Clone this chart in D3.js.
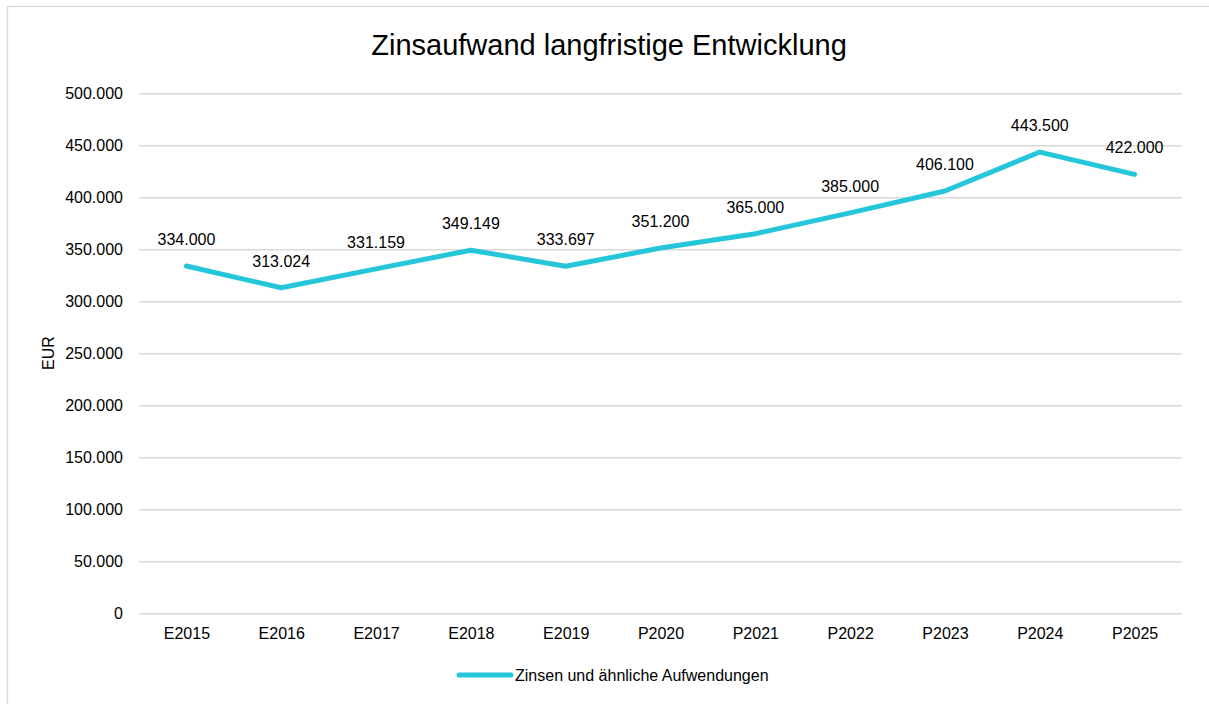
<!DOCTYPE html>
<html>
<head>
<meta charset="utf-8">
<script src="https://cdn.jsdelivr.net/npm/d3@7"></script>
<style>
  body { margin: 0; background: #fff; }
  svg { display: block; font-family: "Liberation Sans", Arial, sans-serif; }
</style>
</head>
<body>
<div id="chart"></div>
<script>
// chart values
const categories = ["E2015", "E2016", "E2017", "E2018", "E2019", "P2020",
  "P2021", "P2022", "P2023", "P2024", "P2025"];
const values = [334000, 313024, 331159, 349149, 333697, 351200,
  365000, 385000, 406100, 443500, 422000];
const yTicks = [0, 50000, 100000, 150000, 200000, 250000, 300000, 350000,
  400000, 450000, 500000];
const seriesName = "Zinsen und ähnliche Aufwendungen";
const title = "Zinsaufwand langfristige Entwicklung";

const lineColor = "#26c6da";
const gridColor = "#d9d9d9";

// german number format: 334.000
const de = d3.formatLocale({ decimal: ",", thousands: ".", grouping: [3], currency: ["", " €"] });
const fmt = de.format(",.0f");

const width = 1209, height = 704;
const margin = { top: 93.3, right: 27, bottom: 90.7, left: 139 };

const svg = d3.select("#chart").append("svg")
  .attr("width", width)
  .attr("height", height);

// chart border
svg.append("rect")
  .attr("x", 7.5).attr("y", 6.5)
  .attr("width", width).attr("height", height)
  .attr("fill", "#fff")
  .attr("stroke", gridColor)
  .attr("stroke-width", 1.3);

svg.append("text")
  .attr("x", 609).attr("y", 55)
  .attr("text-anchor", "middle")
  .attr("font-size", 29)
  .attr("fill", "#000")
  .text(title);

const x = d3.scalePoint()
  .domain(categories)
  .range([margin.left, width - margin.right])
  .padding(0.5);

const y = d3.scaleLinear()
  .domain([0, 500000])
  .range([height - margin.bottom, margin.top]);

// y axis with gridlines
svg.append("g")
  .attr("transform", `translate(${margin.left},0)`)
  .call(d3.axisLeft(y).tickValues(yTicks).tickFormat(fmt)
    .tickSize(-(width - margin.left - margin.right)).tickPadding(16))
  .call((g) => g.select(".domain").remove())
  .call((g) => g.selectAll(".tick line").attr("stroke", gridColor).attr("stroke-width", 1.5))
  .call((g) => g.selectAll(".tick text")
    .attr("font-size", 16).attr("fill", "#000")
    .attr("font-family", "Liberation Sans, Arial, sans-serif"));

// x axis labels
svg.append("g")
  .attr("transform", `translate(0,${height - margin.bottom})`)
  .call(d3.axisBottom(x).tickSize(0).tickPadding(14))
  .call((g) => g.select(".domain").remove())
  .call((g) => g.selectAll(".tick text")
    .attr("font-size", 16).attr("fill", "#000")
    .attr("font-family", "Liberation Sans, Arial, sans-serif"));

svg.append("text")
  .attr("transform", "translate(54,353) rotate(-90)")
  .attr("text-anchor", "middle")
  .attr("font-size", 16)
  .attr("fill", "#000")
  .text("EUR");

const line = d3.line()
  .x((d, i) => x(categories[i]))
  .y((d) => y(d));

svg.append("path")
  .datum(values)
  .attr("fill", "none")
  .attr("stroke", lineColor)
  .attr("stroke-width", 5)
  .attr("stroke-linecap", "round")
  .attr("stroke-linejoin", "round")
  .attr("d", line);

// data labels above each point
svg.append("g")
  .selectAll("text")
  .data(values)
  .join("text")
  .attr("x", (d, i) => x(categories[i]))
  .attr("y", (d) => y(d) - 21)
  .attr("text-anchor", "middle")
  .attr("font-size", 16)
  .attr("fill", "#000")
  .text((d) => fmt(d));

// legend
const legend = svg.append("g").attr("transform", "translate(459,675)");
legend.append("line")
  .attr("x1", 0).attr("x2", 52)
  .attr("stroke", lineColor)
  .attr("stroke-width", 5)
  .attr("stroke-linecap", "round");
legend.append("text")
  .attr("x", 56).attr("y", 6)
  .attr("font-size", 16)
  .attr("fill", "#000")
  .text(seriesName);
</script>
</body>
</html>
